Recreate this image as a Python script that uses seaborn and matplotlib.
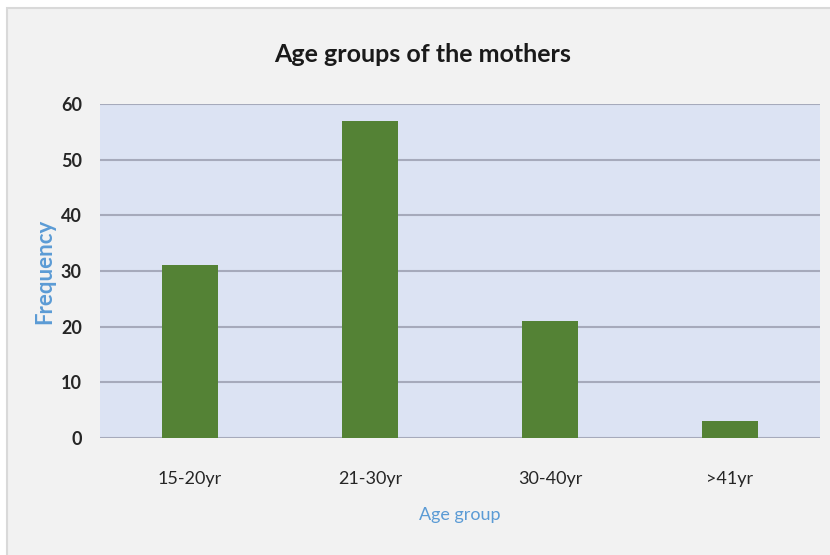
import matplotlib
matplotlib.use("Agg")
import matplotlib.pyplot as plt
import seaborn as sns
import pandas as pd
from matplotlib.patches import Rectangle

categories = ["15-20yr", "21-30yr", "30-40yr", ">41yr"]
frequency = [31, 57, 21, 3]
y_ticks = [0, 10, 20, 30, 40, 50, 60]

sns.set_theme(style="white")
plt.rcParams['font.family'] = ['Lato', 'DejaVu Sans']

df = pd.DataFrame({"Age group": categories, "Frequency": frequency})

fig = plt.figure(figsize=(8.3, 5.55), dpi=100)
fig.patch.set_facecolor("white")
fig.patches.append(Rectangle((7/830, -0.01), 1.02 - 7/830, 1.01 - 8/555, transform=fig.transFigure,
                             facecolor="#f2f2f2", edgecolor="#d9d9d9", linewidth=1.5, zorder=-10))

ax = fig.add_axes([100/830, 1 - 438/555, 720/830, 334/555])
ax.set_facecolor("#dce3f3")
sns.barplot(data=df, x="Age group", y="Frequency", color="#548235", width=0.31,
            saturation=1, linewidth=0, ax=ax, zorder=3)
ax.set_ylim(0, 60)
ax.set_xlim(-0.5, 3.5)
ax.set_yticks(y_ticks)
ax.yaxis.grid(True, color="#a6aabb", linewidth=1.5, zorder=0)
ax.set_axisbelow(True)
for s in ax.spines.values():
    s.set_visible(False)
ax.tick_params(axis="y", length=0, pad=13, labelsize=13, labelcolor="#262626")
ax.tick_params(axis="x", length=0, pad=24, labelsize=13, labelcolor="#262626")
for lbl in ax.get_yticklabels():
    lbl.set_fontweight("bold")
ax.set_ylabel("Frequency", color="#5b9bd5", fontsize=16, fontweight="bold")
ax.set_xlabel("Age group", color="#5b9bd5", fontsize=13)
ax.yaxis.set_label_coords((45 - 100) / 720, 0.5)
ax.yaxis.label.set_va("center")
ax.xaxis.set_label_coords(0.5, (438 - 515) / 334)
ax.xaxis.label.set_va("center")

fig.text(423/830, 1 - 55/555, "Age groups of the mothers", ha="center", va="center",
         fontsize=18, fontweight="bold", color="#1a1a1a")

fig.savefig("out.png", dpi=100, facecolor=fig.get_facecolor())
